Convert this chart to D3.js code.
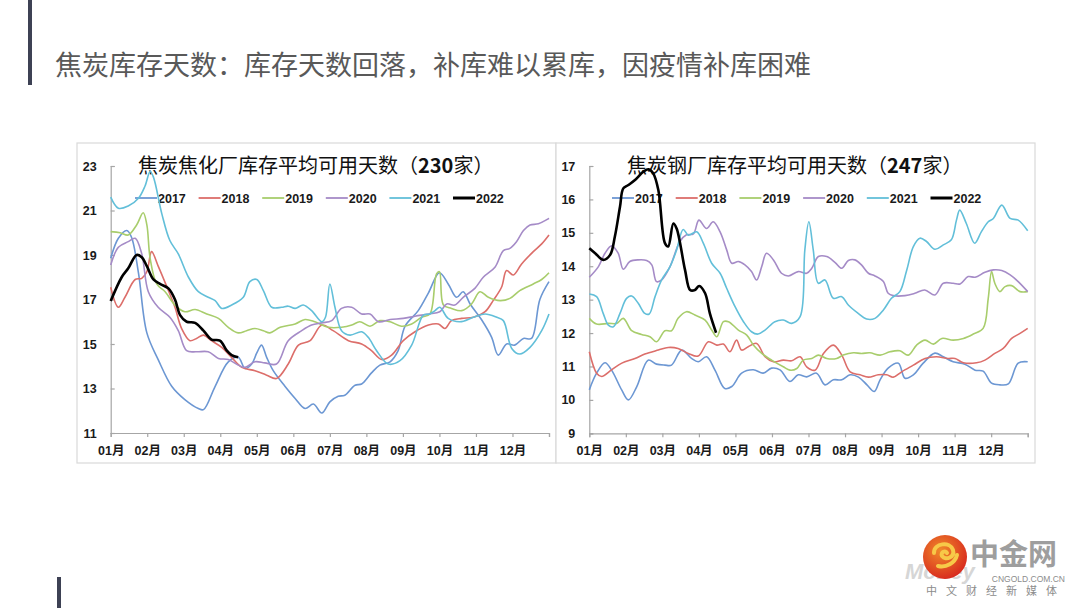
<!DOCTYPE html>
<html>
<head>
<meta charset="utf-8">
<script src="https://cdn.jsdelivr.net/npm/d3@7/dist/d3.min.js"></script>
<style>
  html, body { margin: 0; padding: 0; background: #fff; }
  svg { display: block; }
</style>
</head>
<body>
<svg id="chart" width="1080" height="608"></svg>
<script>
// ---- data (x = month position, 0 = 01月 start, 12 = year end) ----
var years = ['2017', '2018', '2019', '2020', '2021', '2022'];
var yearColors = ['#6c97d3', '#dc6e6a', '#a8cd6c', '#a58bc7', '#62bfd9', '#000000'];
var monthLabels = ['01月', '02月', '03月', '04月', '05月', '06月', '07月', '08月', '09月', '10月', '11月', '12月'];
var leftTicks = [11, 13, 15, 17, 19, 21, 23];
var rightTicks = [9, 10, 11, 12, 13, 14, 15, 16, 17];

// 焦化厂 (230家)
var coke2017 = [[0,18.85],[0.21,19.75],[0.44,20.1],[0.57,19.8],[0.76,18.2],[0.99,15.5],[1.3,14.3],[1.67,13.1],[2.03,12.5],[2.4,12.1],[2.54,12.05],[2.86,13.1],[3.22,14.2],[3.49,14.4],[3.68,13.9],[3.86,14.1],[4.0,14.6],[4.13,14.95],[4.27,14.4],[4.45,13.8],[4.77,13.1],[5.05,12.55],[5.32,12.1],[5.55,12.3],[5.78,11.9],[6.0,12.4],[6.23,12.65],[6.41,12.7],[6.69,13.15],[6.87,13.2],[7.14,13.7],[7.37,14.05],[7.65,14.2],[7.87,14.7],[8.06,15.8],[8.42,16.5],[8.7,17.3],[9.0,18.2],[9.24,17.7],[9.47,17.1],[9.65,17.35],[9.84,16.8],[10.15,16.1],[10.43,15.3],[10.61,14.5],[10.84,15.0],[11.06,14.95],[11.3,15.25],[11.52,15.25],[11.75,17.0],[12,17.8]];
var coke2018 = [[0,17.55],[0.21,16.65],[0.39,17.1],[0.67,17.9],[0.85,17.95],[0.99,18.25],[1.12,19.15],[1.3,18.5],[1.53,17.6],[1.76,16.65],[1.94,15.7],[2.17,15.15],[2.35,15.25],[2.54,15.4],[2.76,15.15],[3.04,14.85],[3.31,14.4],[3.59,13.95],[3.95,13.8],[4.27,13.6],[4.54,13.45],[4.86,14.1],[5.14,14.95],[5.46,15.15],[5.78,15.85],[6.09,15.6],[6.51,15.15],[6.87,15.0],[7.14,14.7],[7.42,14.3],[7.69,14.5],[8.01,15.15],[8.33,15.55],[8.7,15.85],[8.97,15.9],[9.15,15.7],[9.33,16.05],[9.61,16.15],[9.93,16.2],[10.25,16.45],[10.47,16.95],[10.7,17.55],[10.84,18.3],[11.02,18.1],[11.25,18.6],[11.57,19.15],[11.8,19.5],[12,19.9]];
var coke2019 = [[0,20.05],[0.26,20.0],[0.48,19.9],[0.71,20.35],[0.89,20.9],[0.99,20.35],[1.08,18.85],[1.26,17.7],[1.49,17.35],[1.76,16.75],[2.03,16.45],[2.31,16.55],[2.63,16.35],[2.95,16.15],[3.22,15.75],[3.49,15.5],[3.72,15.6],[3.95,15.7],[4.18,15.6],[4.36,15.5],[4.64,15.75],[5.05,15.9],[5.32,16.1],[5.59,16.0],[5.96,15.75],[6.32,15.75],[6.6,15.85],[6.82,16.0],[7.1,15.8],[7.37,16.05],[7.65,16.0],[7.96,15.8],[8.24,15.9],[8.51,16.2],[8.74,16.35],[8.92,18.15],[9.0,18.25],[9.11,16.75],[9.33,16.6],[9.61,16.5],[9.88,16.8],[10.11,17.35],[10.34,17.1],[10.66,16.95],[10.93,17.05],[11.2,17.4],[11.57,17.7],[11.8,17.9],[12,18.2]];
var coke2020 = [[0,18.55],[0.21,19.35],[0.48,19.6],[0.67,19.75],[0.85,19.05],[1.03,17.35],[1.3,16.65],[1.62,16.2],[1.85,15.6],[2.08,14.7],[2.35,14.65],[2.67,14.65],[2.95,14.35],[3.22,14.3],[3.49,14.05],[3.68,13.95],[3.95,14.2],[4.22,14.15],[4.54,14.1],[4.86,15.15],[5.23,15.6],[5.5,15.85],[5.78,15.95],[6.05,16.05],[6.32,16.6],[6.6,16.65],[6.87,16.35],[7.1,16.35],[7.33,16.0],[7.65,16.1],[8.01,16.15],[8.33,16.25],[8.7,16.35],[9.01,16.45],[9.2,16.8],[9.42,16.75],[9.65,17.1],[9.97,17.5],[10.2,18.0],[10.52,18.45],[10.75,19.2],[10.93,19.3],[11.11,19.6],[11.3,20.1],[11.48,20.35],[11.71,20.4],[12,20.65]];
var coke2021 = [[0,21.6],[0.21,21.1],[0.48,21.2],[0.76,21.55],[0.94,22.1],[1.08,22.75],[1.17,22.5],[1.4,20.85],[1.62,19.65],[1.85,19.05],[2.13,18.0],[2.4,17.35],[2.67,17.1],[2.86,16.95],[3.04,16.6],[3.31,16.75],[3.63,17.1],[3.81,17.8],[4.0,17.9],[4.18,17.4],[4.41,16.65],[4.68,16.65],[4.86,16.7],[5.05,16.6],[5.27,16.75],[5.5,16.5],[5.78,16.0],[5.88,16.2],[6.0,17.7],[6.14,16.65],[6.32,15.6],[6.55,15.4],[6.87,15.55],[7.05,15.3],[7.28,14.7],[7.6,14.1],[7.92,14.25],[8.24,14.95],[8.56,16.3],[8.74,16.35],[8.88,16.5],[9.01,16.65],[9.24,16.15],[9.56,16.0],[9.93,16.2],[10.25,16.35],[10.57,16.2],[10.75,16.05],[10.98,14.8],[11.2,14.55],[11.48,14.85],[11.8,15.6],[12,16.35]];
var coke2022 = [[0,16.93],[0.3,18.0],[0.48,18.4],[0.71,19.0],[0.85,18.9],[0.99,18.5],[1.17,17.9],[1.35,17.7],[1.58,17.5],[1.76,17.0],[1.9,16.3],[2.08,16.0],[2.31,15.95],[2.54,15.6],[2.76,15.2],[2.99,15.15],[3.18,14.7],[3.31,14.5],[3.49,14.4]];

// 钢厂 (247家)
var steel2017 = [[0,10.3],[0.2,10.8],[0.43,11.11],[0.61,10.89],[0.89,10.29],[1.07,10.0],[1.3,10.4],[1.61,11.19],[1.84,11.07],[2.07,11.04],[2.25,11.04],[2.53,11.49],[2.8,11.24],[2.98,11.14],[3.21,11.29],[3.44,10.89],[3.71,10.34],[3.9,10.4],[4.17,10.8],[4.49,10.9],[4.76,10.8],[4.99,10.95],[5.22,10.9],[5.49,10.55],[5.72,10.75],[5.95,10.69],[6.22,10.8],[6.45,10.45],[6.68,10.6],[6.91,10.6],[7.14,10.75],[7.37,10.68],[7.6,10.45],[7.8,10.25],[7.96,10.6],[8.18,10.95],[8.46,11.1],[8.64,10.65],[8.87,10.75],[9.14,11.1],[9.46,11.4],[9.69,11.29],[9.96,11.14],[10.28,11.07],[10.56,10.89],[10.78,10.86],[11.01,10.5],[11.24,10.45],[11.47,10.48],[11.74,11.1],[12,11.14]];
var steel2018 = [[0,11.44],[0.2,10.8],[0.34,10.7],[0.61,10.9],[0.89,11.1],[1.25,11.24],[1.52,11.37],[1.89,11.49],[2.16,11.57],[2.43,11.54],[2.71,11.39],[2.98,11.31],[3.26,11.74],[3.49,11.64],[3.67,11.67],[3.85,11.44],[4.03,11.79],[4.17,11.49],[4.35,11.59],[4.58,11.69],[4.81,11.29],[5.04,11.14],[5.31,11.19],[5.54,11.17],[5.77,11.29],[5.95,10.99],[6.18,10.89],[6.41,11.39],[6.68,11.64],[6.91,11.34],[7.14,10.84],[7.41,10.75],[7.64,10.68],[7.91,10.75],[8.14,10.75],[8.32,10.68],[8.55,10.84],[8.87,11.04],[9.19,11.24],[9.5,11.29],[9.82,11.24],[10.01,11.24],[10.24,11.11],[10.6,11.11],[10.83,11.19],[11.1,11.39],[11.33,11.54],[11.56,11.84],[11.79,11.99],[12,12.14]];
var steel2019 = [[0,12.44],[0.2,12.27],[0.52,12.29],[0.75,12.29],[0.93,12.44],[1.16,12.07],[1.43,11.96],[1.66,11.89],[1.84,11.74],[2.07,12.07],[2.25,12.07],[2.43,12.44],[2.66,12.64],[2.89,12.54],[3.17,12.39],[3.35,12.09],[3.49,11.89],[3.67,12.34],[3.81,12.34],[4.08,12.09],[4.31,11.94],[4.49,11.64],[4.72,11.39],[4.99,11.19],[5.31,10.99],[5.49,10.89],[5.68,10.94],[5.86,11.19],[6.09,11.24],[6.27,11.34],[6.5,11.24],[6.77,11.24],[6.95,11.34],[7.23,11.41],[7.45,11.39],[7.68,11.41],[7.96,11.34],[8.23,11.44],[8.5,11.47],[8.73,11.34],[8.96,11.64],[9.19,11.79],[9.42,11.67],[9.65,11.84],[9.96,11.79],[10.24,11.84],[10.51,11.97],[10.78,12.14],[10.92,13.04],[11.01,13.84],[11.1,13.49],[11.24,13.24],[11.38,13.39],[11.56,13.42],[11.79,13.24],[12,13.24]];
var steel2020 = [[0,13.67],[0.25,13.99],[0.43,14.39],[0.61,14.61],[0.79,14.39],[0.93,13.91],[1.11,14.14],[1.34,14.19],[1.57,14.17],[1.71,14.04],[1.84,13.54],[1.98,13.59],[2.21,13.99],[2.48,14.74],[2.66,14.94],[2.85,14.97],[3.0,15.38],[3.21,15.13],[3.39,15.33],[3.58,15.03],[3.76,14.49],[3.9,14.09],[4.08,14.14],[4.26,14.04],[4.44,13.84],[4.58,13.59],[4.72,13.99],[4.85,14.39],[5.04,14.19],[5.26,13.79],[5.45,13.71],[5.72,13.84],[5.95,13.79],[6.09,13.94],[6.27,14.29],[6.5,14.29],[6.73,14.11],[6.91,13.94],[7.09,14.17],[7.27,14.19],[7.45,14.04],[7.64,13.79],[7.82,13.71],[8.05,13.54],[8.18,13.19],[8.32,13.12],[8.64,13.12],[8.91,13.19],[9.18,13.29],[9.46,13.14],[9.69,13.49],[9.96,13.49],[10.15,13.47],[10.37,13.69],[10.56,13.67],[10.83,13.82],[11.06,13.89],[11.29,13.87],[11.52,13.74],[11.74,13.54],[12,13.24]];
var steel2021 = [[0,13.17],[0.2,13.09],[0.38,12.59],[0.52,12.24],[0.66,12.19],[0.84,12.59],[1.02,13.04],[1.16,13.11],[1.34,12.89],[1.52,12.59],[1.64,12.57],[1.8,13.09],[1.98,13.59],[2.21,13.99],[2.39,14.49],[2.57,15.1],[2.71,14.93],[2.94,15.03],[3.12,14.69],[3.35,14.09],[3.58,13.79],[3.76,13.34],[3.99,12.79],[4.22,12.34],[4.44,12.04],[4.62,11.97],[4.81,12.09],[5.08,12.34],[5.31,12.39],[5.54,12.29],[5.77,12.49],[5.9,14.49],[6.01,15.33],[6.13,14.49],[6.27,13.49],[6.45,13.59],[6.68,13.04],[6.91,13.09],[7.09,12.84],[7.36,12.59],[7.59,12.42],[7.82,12.44],[8.05,12.69],[8.27,13.04],[8.5,13.24],[8.69,13.89],[8.87,14.59],[9.05,14.84],[9.23,14.74],[9.46,14.51],[9.69,14.64],[9.91,14.79],[10.05,15.38],[10.14,15.68],[10.32,15.28],[10.55,14.69],[10.73,15.03],[10.92,15.33],[11.06,15.43],[11.29,15.83],[11.52,15.43],[11.74,15.38],[12,15.06]];
var steel2022 = [[0,14.54],[0.16,14.39],[0.38,14.19],[0.57,14.34],[0.7,14.89],[0.84,15.78],[0.93,16.33],[1.07,16.43],[1.25,16.58],[1.48,16.83],[1.62,16.9],[1.75,16.78],[1.89,16.28],[2.07,14.69],[2.16,14.59],[2.3,15.28],[2.39,15.13],[2.62,13.89],[2.76,13.29],[2.89,13.29],[3.01,13.41],[3.17,13.19],[3.3,12.59],[3.47,12.01]];

var svg = d3.select('#chart');
var CJK = '"Noto Sans CJK SC", "Noto Sans", sans-serif';
var LATIN = '"Liberation Sans", Arial, sans-serif';

/////////////////
// Page chrome //
/////////////////

svg.append('rect').attr('x', 28).attr('y', 0).attr('width', 4).attr('height', 85).attr('fill', '#3d4154');
svg.append('rect').attr('x', 57).attr('y', 577).attr('width', 4).attr('height', 31).attr('fill', '#3d4154');

svg.append('text')
  .attr('x', 55).attr('y', 75)
  .attr('font-family', CJK).attr('font-size', 27).attr('fill', '#595959')
  .text('焦炭库存天数：库存天数回落，补库难以累库，因疫情补库困难');

////////////////////
// One chart pane //
////////////////////

var drawPanel = function(opts) {
  var g = svg.append('g');

  g.append('rect')
    .attr('x', opts.box[0]).attr('y', opts.box[1])
    .attr('width', opts.box[2]).attr('height', opts.box[3])
    .attr('fill', '#fff').attr('stroke', '#d9d9d9').attr('stroke-width', 1.2);

  var x = d3.scaleLinear().domain([0, 12]).range([opts.left, opts.right]);
  var y = d3.scaleLinear().domain(opts.yDomain).range([opts.bottom, opts.top]);

  // y axis - ticks point into the plot like the excel original
  var yAxis = g.append('g').attr('transform', 'translate(' + opts.left + ',0)')
    .call(d3.axisLeft(y).tickValues(opts.ticks).tickSize(-4).tickPadding(14).tickFormat(d3.format('d')));
  yAxis.selectAll('text')
    .attr('font-family', LATIN)
    .attr('font-weight', 'bold').attr('font-size', 12.5).attr('fill', '#1a1a1a');

  var xAxis = g.append('g').attr('transform', 'translate(0,' + opts.bottom + ')')
    .call(d3.axisBottom(x).tickValues(d3.range(0, 13)).tickSize(4).tickPadding(9)
      .tickFormat(function(d) { return d < 12 ? monthLabels[d] : ''; }));
  xAxis.selectAll('text')
    .attr('font-family', LATIN + ', ' + CJK)
    .attr('font-weight', 'bold').attr('font-size', 12.5).attr('fill', '#1a1a1a');

  g.selectAll('.domain, .tick line').attr('stroke', '#a6a6a6').attr('stroke-width', 1.2);

  // title with bold count
  var title = g.append('text')
    .attr('x', opts.titleX).attr('y', opts.top + 7)
    .attr('font-family', CJK).attr('font-size', 20).attr('fill', '#111');
  title.append('tspan').text(opts.title[0]);
  title.append('tspan').attr('font-weight', 'bold').text(opts.title[1]);
  title.append('tspan').text(opts.title[2]);

  // legend
  var legend = g.selectAll('.legend').data(years).enter()
    .append('g')
    .attr('transform', function(d, i) { return 'translate(' + (opts.legendX + i * opts.legendStep) + ',' + opts.legendY + ')'; });
  legend.append('line')
    .attr('x1', 0).attr('x2', 22).attr('y1', 0).attr('y2', 0)
    .attr('stroke', function(d, i) { return yearColors[i]; })
    .attr('stroke-width', function(d, i) { return i === 5 ? 3 : 1.8; });
  legend.append('text')
    .attr('x', 23).attr('y', 4.5)
    .attr('font-family', LATIN)
    .attr('font-weight', 'bold').attr('font-size', 12.5).attr('fill', '#1a1a1a')
    .text(function(d) { return d; });

  var line = d3.line()
    .x(function(d) { return x(d[0]); })
    .y(function(d) { return y(d[1]); })
    .curve(d3.curveCatmullRom.alpha(0.5));

  g.selectAll('.series').data(opts.series).enter()
    .append('path')
    .attr('d', line)
    .attr('fill', 'none')
    .attr('stroke', function(d, i) { return yearColors[i]; })
    .attr('stroke-width', function(d, i) { return i === 5 ? 2.6 : 1.6; })
    .attr('stroke-linejoin', 'round');
};

drawPanel({
  box: [77, 143, 479, 320],
  left: 110.7, right: 549, top: 166, bottom: 433,
  yDomain: [11, 23], ticks: leftTicks,
  title: ['焦炭焦化厂库存平均可用天数（', '230', '家）'], titleX: 138,
  legendX: 135, legendStep: 63.6, legendY: 198,
  series: [coke2017, coke2018, coke2019, coke2020, coke2021, coke2022]
});

drawPanel({
  box: [556, 143, 479, 320],
  left: 589.3, right: 1027.7, top: 166, bottom: 433.3,
  yDomain: [9, 17], ticks: rightTicks,
  title: ['焦炭钢厂库存平均可用天数（', '247', '家）'], titleX: 627,
  legendX: 612, legendStep: 63.7, legendY: 198,
  series: [steel2017, steel2018, steel2019, steel2020, steel2021, steel2022]
});

//////////
// Logo //
//////////

var defs = svg.append('defs');
var grad = defs.append('radialGradient').attr('id', 'logoGrad').attr('cx', '40%').attr('cy', '35%').attr('r', '70%');
grad.append('stop').attr('offset', '0%').attr('stop-color', '#f08a2a');
grad.append('stop').attr('offset', '100%').attr('stop-color', '#d7261e');

var logo = svg.append('g');
logo.append('text')
  .attr('x', 905).attr('y', 579)
  .attr('font-family', LATIN).attr('font-style', 'italic')
  .attr('font-weight', 'bold').attr('font-size', 22).attr('fill', '#d6d6d6')
  .text('Money');
logo.append('circle').attr('cx', 945).attr('cy', 557).attr('r', 22).attr('fill', 'url(#logoGrad)');
logo.append('path')
  .attr('d', 'M934,553 C934,543 950,541 953,550 C955,557 946,561 942,556 C940,552 946,550 947,553 M938,566 C946,568 955,563 957,555')
  .attr('fill', 'none').attr('stroke', '#f7c948').attr('stroke-width', 4).attr('stroke-linecap', 'round');
logo.append('text')
  .attr('x', 970).attr('y', 565)
  .attr('font-family', CJK).attr('font-weight', 'bold').attr('font-size', 29).attr('fill', '#9e9e9e')
  .text('中金网');
logo.append('text')
  .attr('x', 1065).attr('y', 582).attr('text-anchor', 'end')
  .attr('font-family', LATIN).attr('font-size', 8.5).attr('fill', '#8c8c8c')
  .text('CNGOLD.COM.CN');
logo.append('text')
  .attr('x', 926).attr('y', 595)
  .attr('font-family', CJK).attr('font-size', 11).attr('fill', '#8c8c8c').attr('letter-spacing', 9)
  .text('中文财经新媒体');
</script>
</body>
</html>
